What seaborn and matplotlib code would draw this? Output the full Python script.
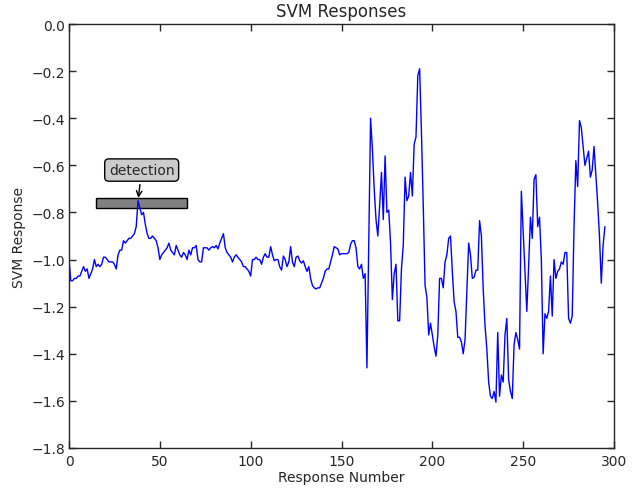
import numpy as np
import pandas as pd
import matplotlib
matplotlib.use('Agg')
import matplotlib.pyplot as plt
import seaborn as sns
from matplotlib.patches import Rectangle

sns.set_style("ticks")
plt.rcParams['font.family'] = ['DejaVu Sans']
plt.rcParams['xtick.direction'] = 'in'
plt.rcParams['ytick.direction'] = 'in'
plt.rcParams['xtick.top'] = True
plt.rcParams['ytick.right'] = True

# SVM response values, one per response number (0..295)
responses = [
    -1.00, -1.09, -1.09, -1.08, -1.08, -1.07, -1.07, -1.05, -1.03, -1.05,
    -1.04, -1.08, -1.06, -1.04, -1.00, -1.03, -1.02, -1.03, -1.02, -0.99,
    -0.99, -1.00, -1.01, -1.01, -1.01, -1.02, -1.04, -0.98, -0.96, -0.96,
    -0.92, -0.93, -0.92, -0.91, -0.91, -0.90, -0.89, -0.86, -0.75, -0.78,
    -0.81, -0.80, -0.85, -0.89, -0.91, -0.91, -0.90, -0.91, -0.92, -0.95,
    -1.00, -0.98, -0.97, -0.96, -0.95, -0.93, -0.96, -0.97, -0.98, -0.94,
    -0.96, -0.98, -0.99, -0.97, -0.98, -1.00, -0.96, -0.98, -0.95, -0.95,
    -0.94, -1.00, -1.01, -1.01, -0.95, -0.95, -0.95, -0.96, -0.95, -0.945,
    -0.95, -0.94, -0.955, -0.93, -0.91, -0.89, -0.95, -0.97, -0.98, -0.99,
    -1.01, -0.99, -0.98, -0.99, -1.00, -1.01, -1.03, -1.03, -1.04, -1.05,
    -1.07, -1.00, -1.00, -0.99, -1.00, -1.00, -1.02, -0.99, -0.975, -0.99,
    -0.99, -0.945, -0.98, -1.005, -1.00, -1.00, -1.03, -1.045, -0.985, -1.00,
    -1.03, -1.01, -0.945, -1.01, -1.03, -0.99, -0.985, -1.005, -1.015, -1.005,
    -1.03, -1.05, -1.03, -1.08, -1.11, -1.12, -1.125, -1.12, -1.12, -1.10,
    -1.08, -1.05, -1.04, -1.04, -1.01, -0.98, -0.945, -0.95, -0.955, -0.98,
    -0.975, -0.975, -0.975, -0.975, -0.97, -0.935, -0.92, -0.92, -0.95, -1.03,
    -1.04, -1.02, -1.08, -1.06, -1.46, -0.93, -0.40, -0.53, -0.70, -0.83,
    -0.90, -0.77, -0.63, -0.83, -0.56, -0.80, -0.79, -0.93, -1.17, -1.06,
    -1.02, -1.26, -1.26, -1.04, -0.94, -0.65, -0.75, -0.73, -0.63, -0.73,
    -0.51, -0.48, -0.22, -0.19, -0.46, -0.77, -1.11, -1.16, -1.32, -1.27,
    -1.32, -1.37, -1.41, -1.32, -1.08, -1.08, -1.12, -1.01, -0.98, -0.91,
    -0.90, -1.05, -1.18, -1.22, -1.33, -1.33, -1.35, -1.40, -1.34, -1.13,
    -0.93, -0.98, -1.08, -1.075, -1.045, -1.045, -0.835, -0.90, -1.125, -1.28,
    -1.38, -1.52, -1.58, -1.59, -1.56, -1.605, -1.31, -1.58, -1.49, -1.52,
    -1.32, -1.25, -1.51, -1.56, -1.59, -1.36, -1.31, -1.34, -1.38, -0.71,
    -0.88, -1.06, -1.22, -1.03, -0.82, -0.91, -0.66, -0.64, -0.86, -0.82,
    -1.00, -1.40, -1.23, -1.25, -1.22, -1.07, -1.24, -1.00, -1.08, -1.05,
    -1.04, -1.01, -1.02, -0.97, -0.97, -1.25, -1.27, -1.24, -0.86, -0.58,
    -0.69, -0.41, -0.44, -0.52, -0.60, -0.57, -0.54, -0.65, -0.62, -0.52,
    -0.64, -0.76, -0.90, -1.10, -0.94, -0.86,
]
response_number = list(range(len(responses)))

# detection window and annotation
det_x0, det_x1 = 15, 65
det_y0, det_y1 = -0.78, -0.74
det_peak = (38, -0.75)
det_text_pos = (40, -0.62)

df = pd.DataFrame({'Response Number': response_number, 'SVM Response': responses})

fig = plt.figure(figsize=(6.42, 4.89), dpi=100)
ax = fig.add_axes([69 / 642, 40 / 489, 545 / 642, 424 / 489])

# window goes under the line so the peak stays visible
ax.add_patch(Rectangle((det_x0, det_y0), det_x1 - det_x0, det_y1 - det_y0,
                       facecolor='0.5', edgecolor='black', lw=1, zorder=1))
sns.lineplot(data=df, x='Response Number', y='SVM Response', color='blue', lw=1, ax=ax, zorder=2)

ax.annotate('detection', xy=det_peak, xytext=det_text_pos, ha='center', va='center',
            fontsize=10, zorder=4,
            bbox=dict(boxstyle='round,pad=0.3', fc='0.8', ec='black'),
            arrowprops=dict(arrowstyle='->', color='black', lw=1))

ax.set_xlim(0, 300)
ax.set_ylim(-1.8, 0.0)
ax.set_xticks([0, 50, 100, 150, 200, 250, 300])
ax.set_yticks(np.arange(-1.8, 0.01, 0.2))
ax.tick_params(labelsize=10, length=5, width=1, pad=4)
ax.tick_params(axis='y', pad=3)
for s in ax.spines.values():
    s.set_visible(True)
    s.set_linewidth(1)
ax.set_title('SVM Responses', fontsize=12)
ax.set_xlabel('Response Number', fontsize=10, labelpad=2)
ax.set_ylabel('SVM Response', fontsize=10, labelpad=4)

fig.savefig('out.png', dpi=100)
